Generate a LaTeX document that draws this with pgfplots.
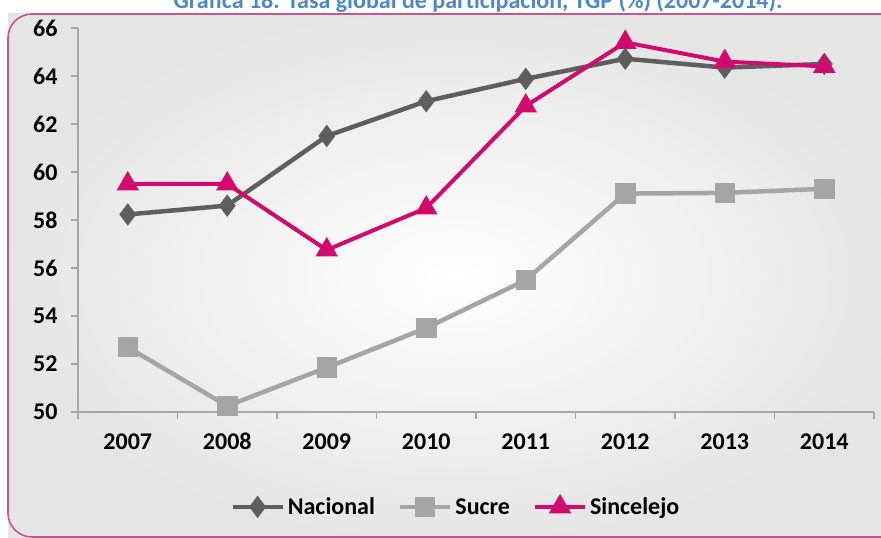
\documentclass[border=0pt]{standalone}
\usepackage{fontspec}
\setmainfont{Carlito}
\usepackage{pgfplots}
\pgfplotsset{compat=1.18}
\definecolor{nac}{HTML}{5E5E5E}
\definecolor{suc}{HTML}{A5A5A5}
\definecolor{sin}{HTML}{D20A6E}
\definecolor{framepink}{HTML}{C4558E}
\definecolor{titleblue}{HTML}{4F86C6}
\begin{document}
\begin{tikzpicture}[x=1pt,y=1pt]
\clip (0,0) rectangle (881,538);
\shade[inner color=white, outer color=black!10] (8,0) rectangle (900,524);
\draw[rounded corners=24, draw=framepink, line width=1.6] (8,1) rectangle (905,524);
\node[anchor=base, text=titleblue, font=\fontsize{24}{28}\selectfont\bfseries, inner sep=0] at (478,529) {Gráfica 18. Tasa global de participación, TGP (\%) (2007-2014).};
\begin{axis}[
  at={(78pt,126pt)}, anchor=south west,
  width=796pt, height=384pt, scale only axis,
  xmin=-0.5, xmax=7.5, ymin=50, ymax=66,
  axis lines*=left,
  axis line style={draw=black!35, line width=1.2},
  xtick={0,...,7},
  xticklabels={2007,2008,2009,2010,2011,2012,2013,2014},
  minor xtick={-0.5,0.5,...,7.5},
  major x tick style={draw=none},
  minor x tick style={draw=black!35, line width=1.2},
  minor tick length=7pt,
  ytick={50,52,...,66},
  y tick style={draw=black!35, line width=1.2},
  major tick length=7pt,
  tick align=outside,
  /pgf/number format/assume math mode=true,
  ticklabel style={font=\fontsize{24}{28}\selectfont\bfseries, text=black},
  yticklabel style={xshift=-10pt},
  xticklabel style={yshift=-11pt, text height=16pt, text depth=0pt, anchor=north},
  legend columns=3,
  legend style={at={(0.474,-0.247)}, anchor=center, draw=none, fill=none,
    font=\fontsize{24}{28}\selectfont\bfseries,
    nodes={text height=16pt, text depth=1pt, inner sep=1pt},
    /tikz/every odd column/.append style={column sep=2pt},
    /tikz/every even column/.append style={column sep=22pt}},
  legend cell align=left,
  legend image code/.code={\draw[mark repeat=2,mark phase=2,#1] plot coordinates {(0pt,0pt) (25pt,0pt) (50pt,0pt)};},
]
\addplot[nac, line width=4.5, mark=diamond*, mark size=7.5, mark options={solid}]
 coordinates {(0,58.23) (1,58.6) (2,61.5) (3,62.95) (4,63.88) (5,64.72) (6,64.35) (7,64.5)};
\addlegendentry{Nacional}
\addplot[suc, line width=4.5, mark=square*, mark size=8, mark options={solid}]
 coordinates {(0,52.7) (1,50.25) (2,51.85) (3,53.5) (4,55.5) (5,59.1) (6,59.13) (7,59.3)};
\addlegendentry{Sucre}
\addplot[sin, line width=4, mark=triangle*, mark size=9, mark options={solid}]
 coordinates {(0,59.5) (1,59.5) (2,56.75) (3,58.5) (4,62.75) (5,65.4) (6,64.6) (7,64.4)};
\addlegendentry{Sincelejo}
\end{axis}
\end{tikzpicture}
\end{document}
